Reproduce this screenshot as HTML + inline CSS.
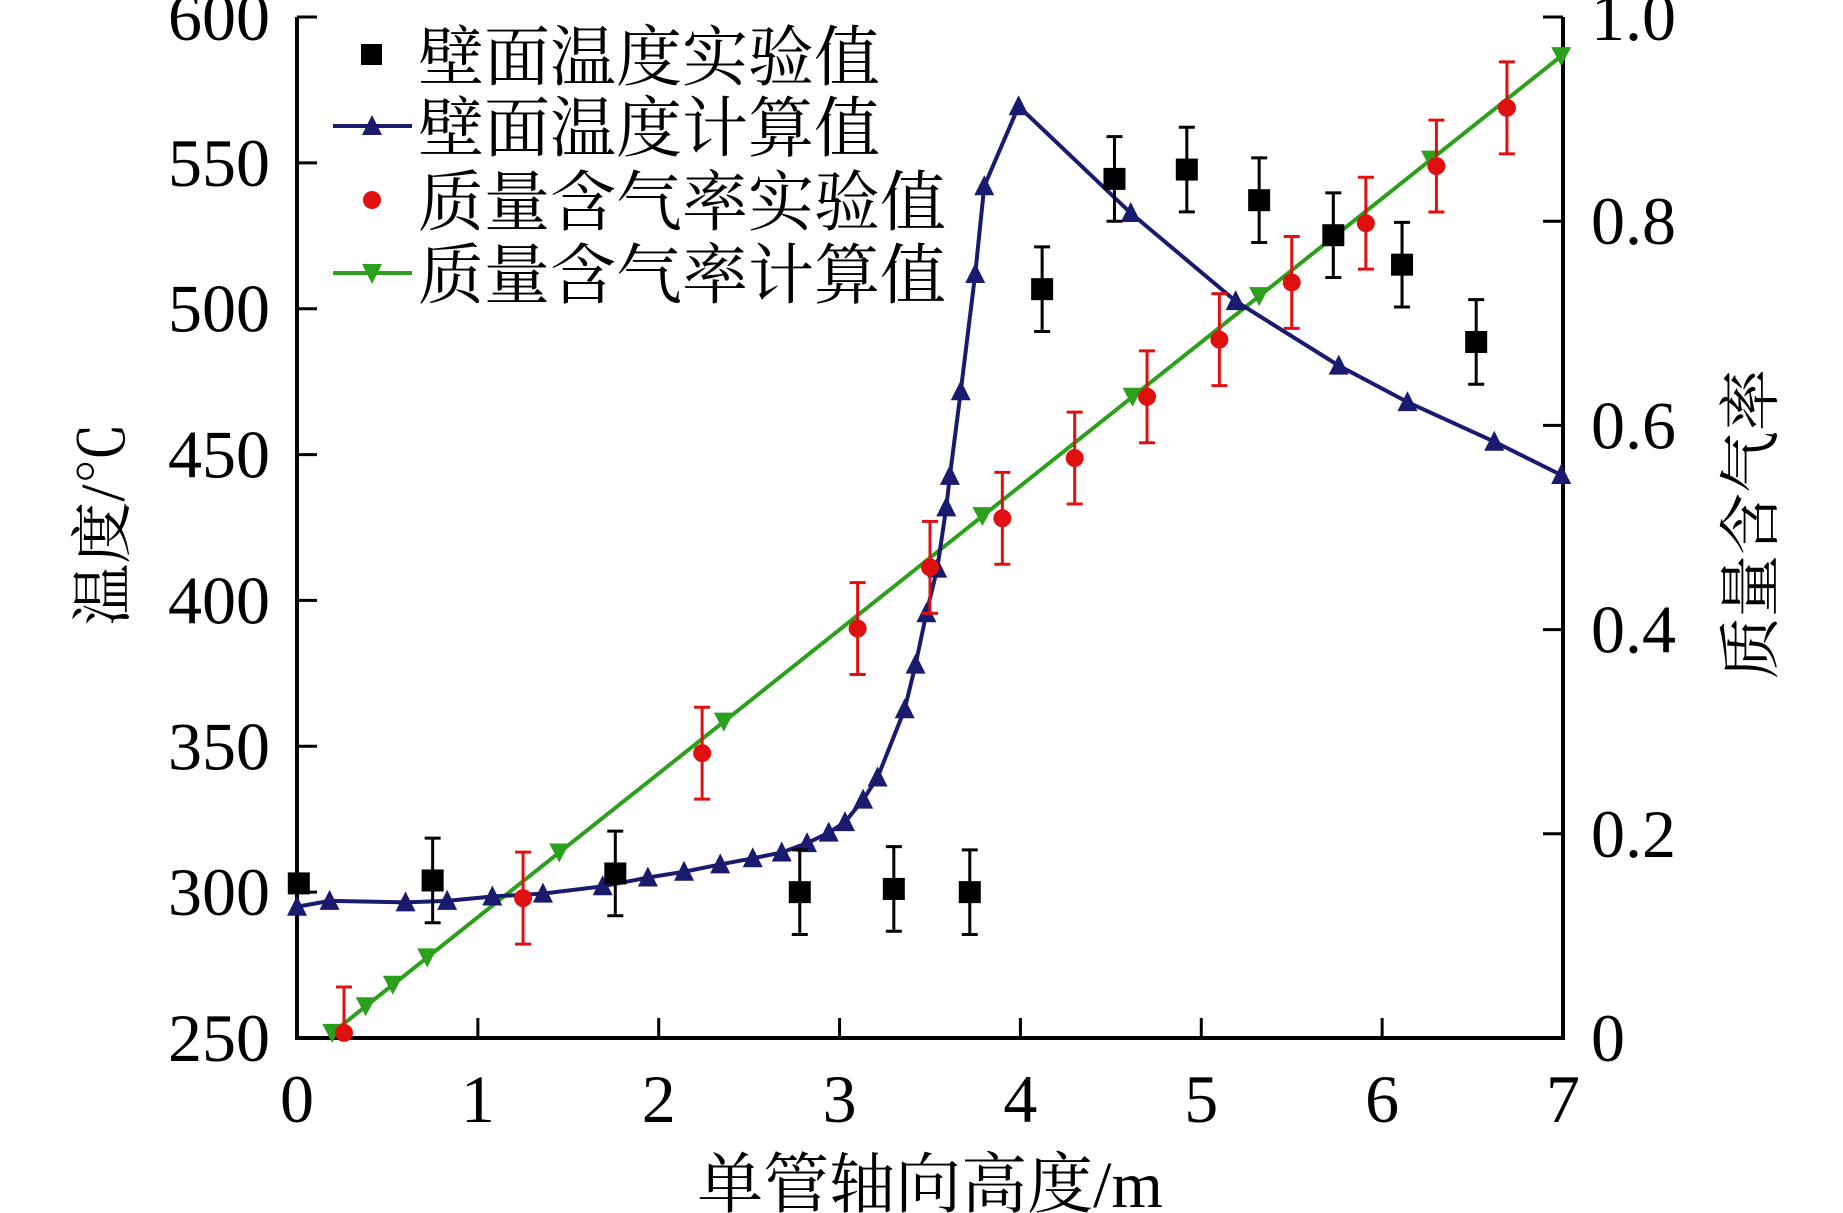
<!DOCTYPE html>
<html><head><meta charset="utf-8">
<style>
html,body{margin:0;padding:0;background:#fff;}
svg{display:block;}
text{font-family:"Liberation Serif","Noto Serif CJK SC",serif;fill:#000;}
text.n{font-family:"Liberation Serif","Times New Roman",serif;}
</style></head>
<body>
<svg id="s" width="1843" height="1213" viewBox="0 0 1843 1213" xmlns="http://www.w3.org/2000/svg"></svg>
<script>
const X0=297,X1=1563,Y0=1038,Y1=17;
const sx=x=>X0+(X1-X0)*x/7;
const sy=t=>Y0-(Y0-Y1)*(t-250)/350;
const sq=q=>Y0-(Y0-Y1)*q;
let h='';
for(let i=0;i<=7;i++){const x=sx(i);if(i>0&&i<7)h+=`<line x1="${x}" y1="${Y0}" x2="${x}" y2="${Y0-20}" stroke="#000" stroke-width="3"/>`;
h+=`<text class="n" x="${x}" y="${Y0+84}" font-size="68" text-anchor="middle">${i}</text>`;}
for(let t=250;t<=600;t+=50){const y=sy(t);h+=`<line x1="${X0}" y1="${y}" x2="${X0+20}" y2="${y}" stroke="#000" stroke-width="3"/>`;
h+=`<text class="n" x="270" y="${y+23}" font-size="68" text-anchor="end">${t}</text>`;}
for(let k=0;k<=5;k++){const q=k/5,y=sq(q);h+=`<line x1="${X1}" y1="${y}" x2="${X1-20}" y2="${y}" stroke="#000" stroke-width="3"/>`;
h+=`<text class="n" x="1591" y="${y+23}" font-size="68">${k==0?'0':k==5?'1.0':q.toFixed(1)}</text>`;}
h+=`<polyline points="${X0},${Y1} ${X0},${Y0} ${X1},${Y0} ${X1},${Y1}" fill="none" stroke="#000" stroke-width="4"/>`;
const ql=x=>0.005+(x-0.195)*0.1408;
h+=`<line x1="${sx(0.195)}" y1="${sq(ql(0.195))}" x2="${sx(6.99)}" y2="${sq(ql(6.99))}" stroke="#2ca01c" stroke-width="4"/>`;
const gm=[0.195,0.38,0.53,0.72,1.45,2.36,3.79,4.62,5.32,6.27,6.99];
gm.forEach(x=>{const cx=sx(x),cy=sq(ql(x));h+=`<polygon points="${cx-10},${cy-9} ${cx+10},${cy-9} ${cx},${cy+10}" fill="#2ca01c"/>`;});
const tc=[[0,295],[0.18,297],[0.6,296.5],[0.83,297],[1.08,298.5],[1.36,299.5],[1.69,302],[1.94,305],[2.14,307],[2.34,309.5],[2.52,311.6],[2.68,313.6],[2.82,316.8],[2.94,320.4],[3.03,324],[3.13,331.7],[3.21,339.3],[3.36,362.7],[3.42,378],[3.48,395.6],[3.54,410.9],[3.59,431.9],[3.61,442.7],[3.67,471.7],[3.75,511.9],[3.80,542],[3.99,569.4],[4.61,532.8],[5.19,502.6],[5.76,480.5],[6.14,468],[6.62,454.4],[6.99,443]];
h+=`<polyline points="${tc.map(p=>sx(p[0])+','+sy(p[1])).join(' ')}" fill="none" stroke="#1a1a6e" stroke-width="4"/>`;
tc.forEach(p=>{const cx=sx(p[0]),cy=sy(p[1]);h+=`<polygon points="${cx-10},${cy+9} ${cx+10},${cy+9} ${cx},${cy-11}" fill="#1a1a6e"/>`;});
const qe=[[0.26,0.005],[1.25,0.137],[2.24,0.279],[3.10,0.401],[3.50,0.461],[3.90,0.509],[4.30,0.568],[4.70,0.628],[5.10,0.684],[5.50,0.740],[5.91,0.798],[6.30,0.854],[6.69,0.911]];
qe.forEach(p=>{const cx=sx(p[0]),cy=sq(p[1]),a=sq(p[1]+0.045),b=Math.min(Y0,sq(p[1]-0.045));
h+=`<g stroke="#e01010" stroke-width="3"><line x1="${cx}" y1="${a}" x2="${cx}" y2="${b}"/><line x1="${cx-8}" y1="${a}" x2="${cx+8}" y2="${a}"/>${b<Y0?`<line x1="${cx-8}" y1="${b}" x2="${cx+8}" y2="${b}"/>`:''}</g><circle cx="${cx}" cy="${cy}" r="9" fill="#e01010"/>`;});
const te=[[0.01,303,0],[0.75,304,1],[1.76,306.4,1],[2.78,300,1],[3.30,301.1,1],[3.72,300,1],[4.12,506.7,1],[4.52,544.5,1],[4.92,547.7,1],[5.32,537.2,1],[5.73,525.2,1],[6.11,515.1,1],[6.52,488.6,1]];
te.forEach(p=>{const cx=sx(p[0]),cy=sy(p[1]);if(p[2]){const a=sy(p[1]+14.5),b=sy(p[1]-14.5);
h+=`<g stroke="#000" stroke-width="3"><line x1="${cx}" y1="${a}" x2="${cx}" y2="${b}"/><line x1="${cx-8}" y1="${a}" x2="${cx+8}" y2="${a}"/><line x1="${cx-8}" y1="${b}" x2="${cx+8}" y2="${b}"/></g>`;}
h+=`<rect x="${cx-11}" y="${cy-11}" width="22" height="22" fill="#000"/>`;});
const ly=[55,126,200,273],lt=['壁面温度实验值','壁面温度计算值','质量含气率实验值','质量含气率计算值'];
h+=`<rect x="361" y="${ly[0]-11}" width="21" height="21" fill="#000"/>`;
h+=`<line x1="333" y1="${ly[1]}" x2="412" y2="${ly[1]}" stroke="#1a1a6e" stroke-width="4"/><polygon points="362,${ly[1]+9} 382,${ly[1]+9} 372,${ly[1]-11}" fill="#1a1a6e"/>`;
h+=`<circle cx="372" cy="${ly[2]}" r="9" fill="#e01010"/>`;
h+=`<line x1="333" y1="${ly[3]}" x2="412" y2="${ly[3]}" stroke="#2ca01c" stroke-width="4"/><polygon points="362,${ly[3]-9} 382,${ly[3]-9} 372,${ly[3]+11}" fill="#2ca01c"/>`;
lt.forEach((t,i)=>h+=`<text x="418" y="${ly[i]+25}" font-size="66">${t}</text>`);
h+=`<text x="930" y="1207" font-size="66" text-anchor="middle">单管轴向高度/m</text>`;
h+=`<text transform="translate(124,524) rotate(-90)" font-size="62" text-anchor="middle">温度/℃</text>`;
h+=`<text transform="translate(1772,524) rotate(-90)" font-size="62" text-anchor="middle">质量含气率</text>`;
document.getElementById('s').innerHTML=h;
</script>
</body></html>
